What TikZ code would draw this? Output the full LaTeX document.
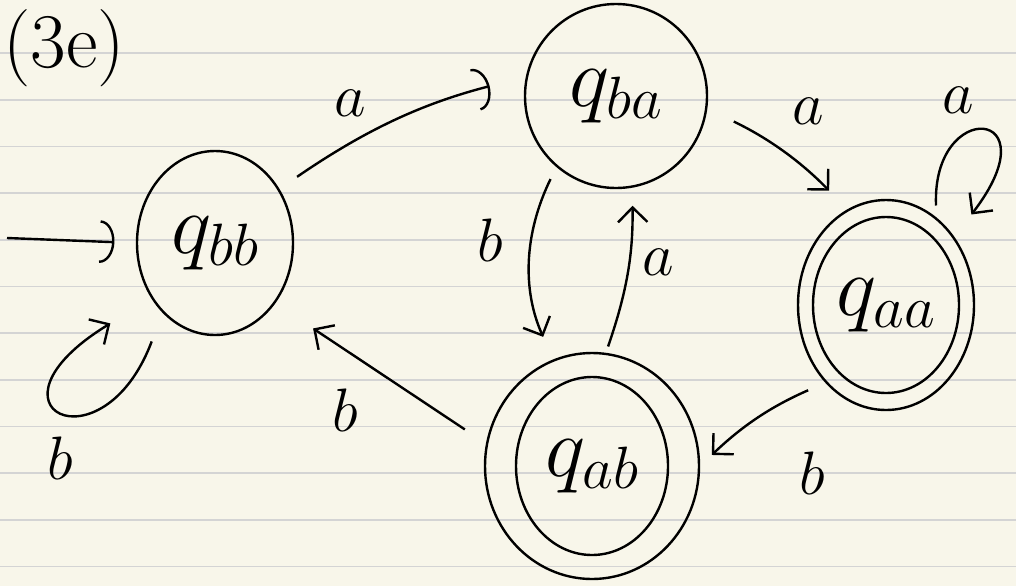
\RequirePackage{fix-cm}
\documentclass[tikz,border=0pt]{standalone}
\usepackage{amsmath, amssymb}
\usepackage{tikz}
\usetikzlibrary{shapes.geometric, arrows.meta}

\tikzset{
  state/.style={draw, ellipse, line width=1.8pt, inner sep=0pt, font=\fontsize{64}{64}\selectfont},
  ring/.style={line width=1.8pt},
  trans/.style={line width=1.8pt, -{Straight Barb[length=11pt, width=22pt]}},
  transarc/.style={line width=1.8pt, -{Arc Barb[length=11pt, width=32pt]}},
  lbl/.style={inner sep=0.75pt, font=\fontsize{46}{46}\selectfont},
  rule/.style={color={rgb, 255:red, 212; green, 212; blue, 212 }, line width=1.2pt},
}

\begin{document}
\begin{tikzpicture}[x=0.75pt,y=0.75pt,yscale=-1,xscale=1]
\useasboundingbox (0,0) rectangle (1016,586);

%Paper
\fill [color={rgb, 255:red, 248; green, 246; blue, 234 }] (0,0) rectangle (1016,586) ;
%Straight Lines
\draw [rule] (0,53) -- (1016,53) ;
\draw [rule] (0,99.7) -- (1016,99.7) ;
\draw [rule] (0,146.3) -- (1016,146.3) ;
\draw [rule] (0,193) -- (1016,193) ;
\draw [rule] (0,239.7) -- (1016,239.7) ;
\draw [rule] (0,286.3) -- (1016,286.3) ;
\draw [rule] (0,333) -- (1016,333) ;
\draw [rule] (0,379.7) -- (1016,379.7) ;
\draw [rule] (0,426.3) -- (1016,426.3) ;
\draw [rule] (0,473) -- (1016,473) ;
\draw [rule] (0,519.7) -- (1016,519.7) ;
\draw [rule] (0,566.3) -- (1016,566.3) ;

%Flowchart: Connector [id:qbb]
\draw (215,243) node [state, minimum width=117pt, minimum height=138pt] (qbb) {$q_{bb}$};
%Flowchart: Connector [id:qba]
\draw (616,96) node [state, minimum width=136.5pt, minimum height=138pt] (qba) {$q_{ba}$};
%Flowchart: Connector [id:qaa]
\draw (886,305) node [state, minimum width=132pt, minimum height=157.5pt] (qaa) {$q_{aa}$};
\draw [ring] (qaa.center) ellipse [x radius=73, y radius=88] ;
%Flowchart: Connector [id:qab]
\draw (592,466) node [state, minimum width=160.5pt, minimum height=169.5pt] (qab) {$q_{ab}$};
\draw [ring] (qab.center) ellipse [x radius=76, y radius=89] ;

\coordinate (init) at (7,238);

%Straight Lines
\draw [transarc, shorten >=16pt] (init) -- (qbb.west) ;
%Curve Lines
\draw [transarc, shorten <=16pt, shorten >=28pt] (qbb.40) to [bend right=10] (qba.168) ;
%Curve Lines
\draw [trans, shorten <=23pt, shorten >=36pt] (qbb.233) .. controls +(-60,160) and +(-180,110) .. (qbb.221) ;
%Curve Lines
\draw [trans, shorten <=22pt, shorten >=19.5pt] (qba.-8) to [bend right=10] (qaa.112) ;
%Curve Lines
\draw [trans, shorten <=9pt, shorten >=21pt] (qaa.60) .. controls +(-5,-120) and +(100,-130) .. (qaa.45) ;
%Curve Lines
\draw [trans, shorten <=10pt, shorten >=18.5pt] (qba.230) to [bend left=25] (qab.110) ;
%Curve Lines
\draw [trans, shorten <=5pt, shorten >=13.5pt] (qab.83) to [bend left=10] (qba.-80) ;
%Curve Lines
\draw [trans, shorten <=14pt, shorten >=12pt] (qaa.232) to [bend left=10] (qab.0) ;
%Straight Lines
\draw [trans, shorten <=19pt, shorten >=34pt] (qab.168) -- (qbb.-45) ;

% Text Node
\draw (2,48) node [anchor=west][inner sep=0.75pt] (title) {\fontsize{58}{58}\selectfont (3e)};
% Text Node
\draw (350,103) node [lbl] (lbbba) {$a$};
% Text Node
\draw (60,458) node [lbl] (lbbbb) {$b$};
% Text Node
\draw (808,111) node [lbl] (lbaaa) {$a$};
% Text Node
\draw (958,100) node [lbl] (laaaa) {$a$};
% Text Node
\draw (490,240) node [lbl] (lbaab) {$b$};
% Text Node
\draw (658,262) node [lbl] (labba) {$a$};
% Text Node
\draw (812,473) node [lbl] (laaab) {$b$};
% Text Node
\draw (345,410) node [lbl] (labbb) {$b$};

\end{tikzpicture}
\end{document}
